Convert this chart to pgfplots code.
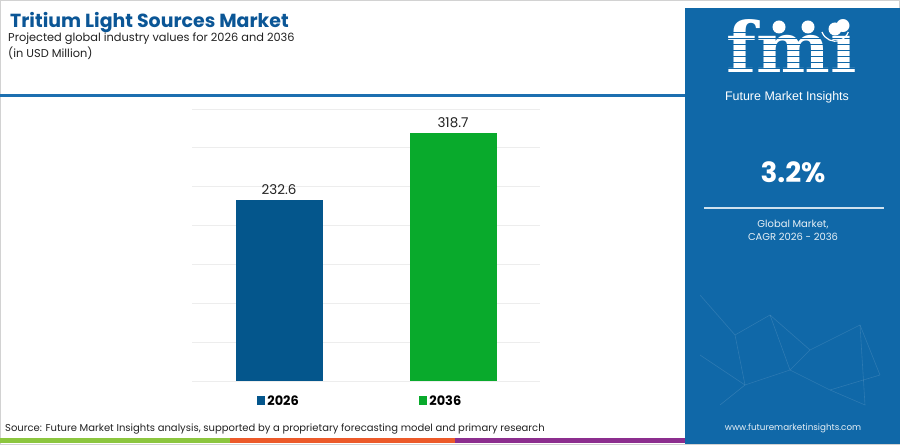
\documentclass[border=0pt]{standalone}
\usepackage{fontspec}
\setmainfont{Poppins}
\newfontfamily\logofont{DejaVu Serif}
\newfontfamily\arialfont{Liberation Sans}
\usepackage{pgfplots}
\pgfplotsset{compat=1.18}
\definecolor{barblue}{HTML}{04568C}
\definecolor{bargreen}{HTML}{09AA2C}
\definecolor{panelblue}{HTML}{1068A8}
\definecolor{headblue}{HTML}{1D6FB0}
\definecolor{titleblue}{HTML}{0B5696}
\definecolor{stripegreen}{HTML}{8CC63F}
\definecolor{stripeorange}{HTML}{EC5A2A}
\definecolor{stripepurple}{HTML}{8C2E8E}
\definecolor{gridgray}{HTML}{EDEDED}
\definecolor{txt}{HTML}{222222}
\begin{document}
\begin{tikzpicture}[x=1bp,y=1bp]
\useasboundingbox (0,0) rectangle (900,445);
\fill[white] (0,0) rectangle (900,445);
\draw[gray!35, line width=0.8bp] (0.4,0.4) rectangle (899.6,444.6);
% header line
\fill[headblue] (0,348) rectangle (686,351);
% bottom stripe
\fill[stripegreen] (0,2) rectangle (230,7);
\fill[stripeorange] (230,2) rectangle (455,7);
\fill[stripepurple] (455,2) rectangle (686,7);
% right panel
\fill[panelblue] (685,1) rectangle (900,437);
% faint network decoration
\begin{scope}[white, opacity=0.12, line width=0.6bp]
\draw (700,150) -- (735,110) -- (770,130) -- (810,95) -- (860,120) -- (880,70);
\draw (735,110) -- (745,60) -- (790,75) -- (810,95);
\draw (770,130) -- (790,75);
\draw (860,120) -- (865,40) -- (830,55) -- (790,75);
\draw (700,90) -- (745,60) -- (720,40);
\draw (830,55) -- (880,70);
\end{scope}
% titles
\node[anchor=base west, inner sep=0, text=titleblue, font=\fontsize{19}{22}\selectfont\bfseries] at (10,417) {Tritium Light Sources Market};
\node[anchor=base west, inner sep=0, text=txt, font=\fontsize{11.4}{14}\selectfont] at (8,403) {Projected global industry values for 2026 and 2036};
\node[anchor=base west, inner sep=0, text=txt, font=\fontsize{11.4}{14}\selectfont] at (8,387) {(in USD Million)};
% source
\node[anchor=base west, inner sep=0, text=txt, font=\fontsize{10.05}{12}\selectfont] at (5,13) {Source: Future Market Insights analysis, supported by a proprietary forecasting model and primary research};
% logo
\node[anchor=base, inner sep=0, text=white, font=\fontsize{70}{74}\logofont\bfseries] at (792,372) {fmi};
\foreach \yy in {376,382,388,394,400,406,412} {\fill[panelblue] (718,\yy) rectangle (868,\yy+1.4);}
\fill[white] (779,418) circle (6.5);
\fill[white] (808,418) circle (6.5);
\fill[white] (835,416) circle (6.5);
\draw[white, line width=1.2bp] (822,413) arc (200:340:14);
\node[anchor=base, inner sep=0, text=white, font=\fontsize{12.5}{15}\arialfont] at (787,344) {Future Market Insights};
% CAGR
\node[anchor=base, inner sep=0, text=white, font=\fontsize{28}{32}\selectfont\bfseries] at (793,262) {3.2\%};
\draw[white!80!panelblue, line width=1.3bp] (704,237) -- (884,237);
\node[anchor=base, inner sep=0, text=white!90!panelblue, font=\fontsize{10}{12}\selectfont] at (793,217) {Global Market,};
\node[anchor=base, inner sep=0, text=white!90!panelblue, font=\fontsize{10}{12}\selectfont] at (793,204) {CAGR 2026 - 2036};
\node[anchor=base, inner sep=0, text=white!90!panelblue, font=\fontsize{8.8}{11}\selectfont] at (793,14) {www.futuremarketinsights.com};
% chart
\begin{axis}[
  at={(192bp,64bp)}, anchor=south west,
  width=348bp, height=272bp, scale only axis,
  xmin=-0.5, xmax=1.5, ymin=0, ymax=350,
  ytick={0,50,...,350}, yticklabels={},
  xtick=\empty,
  ymajorgrids, major grid style={draw=gridgray, line width=0.9bp},
  axis line style={draw=none}, major tick length=0pt,
  ybar, bar width=87bp, bar shift=0pt,
  nodes near coords,
  /pgf/number format/.cd, fixed, fixed zerofill, precision=1, assume math mode=true, /pgfplots/.cd,
  every node near coord/.append style={font=\fontsize{13.5}{16}\selectfont, text=txt, yshift=2bp},
  legend columns=2,
  legend style={at={(0.483,-0.0735)}, anchor=center, draw=none, fill=none,
    font=\fontsize{13}{15}\selectfont\bfseries, /tikz/every even column/.append style={column sep=118bp}},
  legend image code/.code={\fill[#1] (0bp,-4bp) rectangle (8.5bp,4.5bp);},
]
\addplot[fill=barblue, draw=none] coordinates {(0,232.6)};
\addlegendentry{2026}
\addplot[fill=bargreen, draw=none] coordinates {(1,318.7)};
\addlegendentry{2036}
\end{axis}
\end{tikzpicture}
\end{document}
